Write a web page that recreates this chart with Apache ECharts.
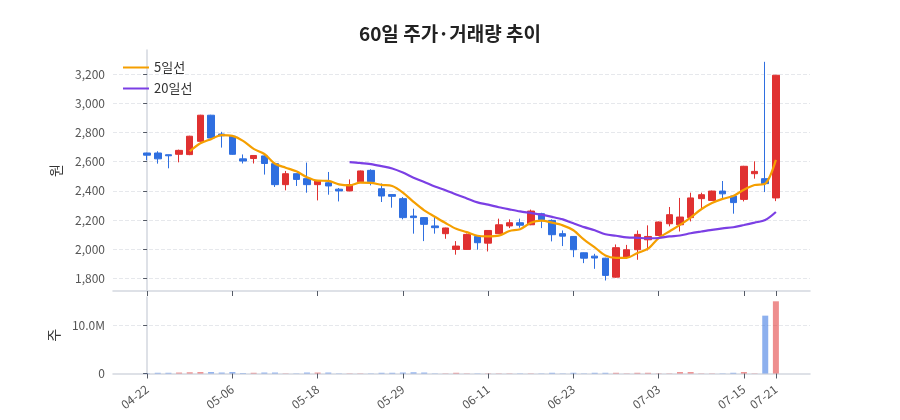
<!DOCTYPE html>
<html>
<head>
<meta charset="utf-8">
<script src="https://cdn.jsdelivr.net/npm/echarts@6/dist/echarts.min.js"></script>
<style>
  html, body { margin: 0; padding: 0; background: #fff; }
  #chart { width: 900px; height: 420px; }
</style>
</head>
<body>
<div id="chart"></div>
<script>
// 60 trading days
let dates = [
    '04-22', '04-23', '04-24', '04-25', '04-28', '04-29', '04-30', '05-02', '05-06', '05-07',
    '05-08', '05-09', '05-12', '05-13', '05-14', '05-15', '05-18', '05-19', '05-20', '05-21',
    '05-22', '05-23', '05-26', '05-27', '05-29', '05-30', '06-02', '06-03', '06-04', '06-05',
    '06-09', '06-10', '06-11', '06-12', '06-13', '06-16', '06-17', '06-18', '06-19', '06-20',
    '06-23', '06-24', '06-25', '06-26', '06-27', '06-30', '07-01', '07-02', '07-03', '07-04',
    '07-07', '07-08', '07-09', '07-10', '07-11', '07-14', '07-15', '07-17', '07-18', '07-21'
];

let opens = [
    2660, 2660, 2648, 2651, 2649, 2740, 2919, 2790, 2775, 2620,
    2622, 2640, 2587, 2443, 2518, 2484, 2443, 2456, 2412, 2400,
    2463, 2541, 2415, 2375, 2347, 2228, 2217, 2160, 2107, 1999,
    1999, 2088, 2042, 2107, 2160, 2182, 2168, 2244, 2198, 2107,
    2088, 1976, 1953, 1939, 1809, 1946, 1997, 2065, 2095, 2175,
    2168, 2217, 2347, 2335, 2399, 2365, 2342, 2518, 2484, 2352
];
let closes = [
    2645, 2620, 2641, 2678, 2775, 2919, 2763, 2778, 2651, 2605,
    2643, 2588, 2443, 2518, 2479, 2443, 2470, 2434, 2400, 2443,
    2537, 2463, 2365, 2363, 2217, 2217, 2171, 2148, 2146, 2022,
    2102, 2045, 2129, 2168, 2182, 2165, 2262, 2203, 2100, 2090,
    1997, 1939, 1940, 1821, 2011, 1997, 2102, 2088, 2187, 2237,
    2221, 2352, 2374, 2399, 2380, 2320, 2569, 2534, 2450, 3193
];
let lows = [
    2610, 2587, 2555, 2596, 2645, 2738, 2760, 2697, 2648, 2588,
    2588, 2512, 2427, 2404, 2434, 2388, 2335, 2374, 2328, 2398,
    2460, 2438, 2324, 2285, 2205, 2107, 2056, 2107, 2072, 1963,
    1996, 1997, 1985, 2104, 2145, 2148, 2165, 2145, 2054, 2022,
    1946, 1905, 1866, 1786, 1805, 1944, 1928, 1992, 2090, 2157,
    2122, 2191, 2283, 2333, 2347, 2244, 2328, 2484, 2392, 2330
];
let highs = [
    2662, 2672, 2649, 2683, 2778, 2922, 2922, 2805, 2778, 2650,
    2646, 2646, 2590, 2537, 2520, 2594, 2475, 2530, 2420, 2479,
    2540, 2548, 2451, 2376, 2358, 2278, 2220, 2221, 2148, 2056,
    2108, 2090, 2132, 2210, 2205, 2210, 2272, 2250, 2205, 2129,
    2090, 1978, 1969, 1942, 2033, 2030, 2129, 2164, 2190, 2290,
    2352, 2388, 2388, 2402, 2468, 2368, 2572, 2603, 3285, 3195
];
// volume in millions of shares
let volumes = [
    0.05, 0.15, 0.15, 0.2, 0.25, 0.3, 0.3, 0.2, 0.3, 0.1,
    0.15, 0.2, 0.2, 0.05, 0.05, 0.2, 0.2, 0.2, 0.05, 0.05,
    0.05, 0.05, 0.15, 0.15, 0.2, 0.25, 0.2, 0.05, 0.05, 0.15,
    0.05, 0.05, 0.05, 0.05, 0.05, 0.05, 0.05, 0.05, 0.15, 0.05,
    0.15, 0.05, 0.15, 0.15, 0.15, 0.05, 0.15, 0.15, 0.05, 0.05,
    0.3, 0.3, 0.05, 0.05, 0.05, 0.15, 0.3, 0.05, 12.1, 15.1
];

// label positions on the date axis
let labelIdx = [0, 8, 16, 24, 32, 40, 48, 56, 59];

let upColor = '#e03131';
let downColor = '#2f6fe0';

function movingAvg(n) {
    let out = [];
    for (let i = 0; i < closes.length; i++) {
        if (i < n - 1) continue;
        let sum = 0;
        for (let j = i - n + 1; j <= i; j++) sum += closes[j];
        out.push([i, Math.round(sum / n * 10) / 10]);
    }
    return out;
}

let candles = dates.map((d, i) => [i, opens[i], closes[i], lows[i], highs[i]]);
let volBars = volumes.map((v, i) => ({
    value: [i, v * 1e6],
    itemStyle: { color: closes[i] >= opens[i] ? upColor : downColor, opacity: 0.55 }
}));

var dom = document.getElementById('chart');
var myChart = echarts.init(dom);

let font = '"Noto Sans CJK KR", "Noto Sans", sans-serif';

let xCommon = {
    type: 'value',
    min: -3.2,
    max: 62.2,
    splitLine: { show: false },
    axisLine: { lineStyle: { color: '#d3d7df', width: 1.5 } },
    axisTick: { customValues: labelIdx, length: 5, lineStyle: { color: '#555b66' } }
};

var option = {
    animation: false,
    textStyle: { fontFamily: font },
    title: {
        text: '60일 주가·거래량 추이',
        left: 'center',
        top: 19,
        textStyle: { fontSize: 19, fontWeight: 'bold', color: '#222', fontFamily: font }
    },
    legend: {
        orient: 'vertical',
        left: 118,
        top: 56,
        itemWidth: 26,
        itemHeight: 10,
        itemGap: 8,
        textStyle: { fontSize: 13, color: '#333' },
        data: [
            { name: '5일선', icon: 'path://M0,4 L26,4 L26,6 L0,6 Z' },
            { name: '20일선', icon: 'path://M0,4 L26,4 L26,6 L0,6 Z' }
        ]
    },
    grid: [
        { left: 113, right: 90, top: 50, bottom: 129 },
        { left: 113, right: 90, top: 297, bottom: 46.5 }
    ],
    xAxis: [
        Object.assign({}, xCommon, {
            gridIndex: 0,
            axisLabel: { show: false }
        }),
        Object.assign({}, xCommon, {
            gridIndex: 1,
            axisLabel: {
                customValues: labelIdx,
                rotate: 37,
                fontSize: 12,
                color: '#555',
                margin: 14,
                formatter: v => dates[v]
            }
        })
    ],
    yAxis: [
        {
            gridIndex: 0,
            min: 1714,
            max: 3366,
            splitNumber: 8,
            name: '원',
            nameLocation: 'middle',
            nameGap: 50,
            nameTextStyle: { fontSize: 14, color: '#333' },
            axisLine: { show: true, lineStyle: { color: '#d3d7df', width: 1.5 } },
            axisTick: { show: true, length: 4, lineStyle: { color: '#555b66' } },
            axisLabel: {
                fontSize: 12, color: '#555', showMinLabel: false, showMaxLabel: false,
                formatter: v => v.toLocaleString('en-US')
            },
            splitLine: { showMinLine: false, showMaxLine: false, lineStyle: { type: 'dashed', color: '#e6e8ec' } }
        },
        {
            gridIndex: 1,
            min: 0,
            max: 16e6,
            interval: 10e6,
            name: '주',
            nameLocation: 'middle',
            nameGap: 50,
            nameTextStyle: { fontSize: 14, color: '#333' },
            axisLine: { show: true, lineStyle: { color: '#d3d7df', width: 1.5 } },
            axisTick: { show: true, length: 4, lineStyle: { color: '#555b66' } },
            axisLabel: {
                fontSize: 12, color: '#555', showMaxLabel: false,
                formatter: v => v === 0 ? '0' : (v / 1e6).toFixed(1) + 'M'
            },
            splitLine: { showMinLine: false, showMaxLine: false, lineStyle: { type: 'dashed', color: '#e6e8ec' } }
        }
    ],
    series: [
        {
            name: '주가',
            type: 'candlestick',
            xAxisIndex: 0,
            yAxisIndex: 0,
            barWidth: 7,
            encode: { x: 0, y: [1, 2, 3, 4] },
            data: candles,
            itemStyle: {
                color: upColor, color0: downColor,
                borderColor: upColor, borderColor0: downColor,
                borderWidth: 1
            }
        },
        {
            name: '5일선',
            type: 'line',
            xAxisIndex: 0,
            yAxisIndex: 0,
            data: movingAvg(5),
            showSymbol: false,
            smooth: 0.3,
            color: '#f59f00',
            lineStyle: { width: 2.2, color: '#f59f00' }
        },
        {
            name: '20일선',
            type: 'line',
            xAxisIndex: 0,
            yAxisIndex: 0,
            data: movingAvg(20),
            showSymbol: false,
            smooth: 0.3,
            color: '#7b3fe4',
            lineStyle: { width: 2.2, color: '#7b3fe4' }
        },
        {
            name: '거래량',
            type: 'bar',
            xAxisIndex: 1,
            yAxisIndex: 1,
            barWidth: 6,
            data: volBars
        }
    ]
};

if (option && typeof option === 'object') {
    myChart.setOption(option);
}
</script>
</body>
</html>
